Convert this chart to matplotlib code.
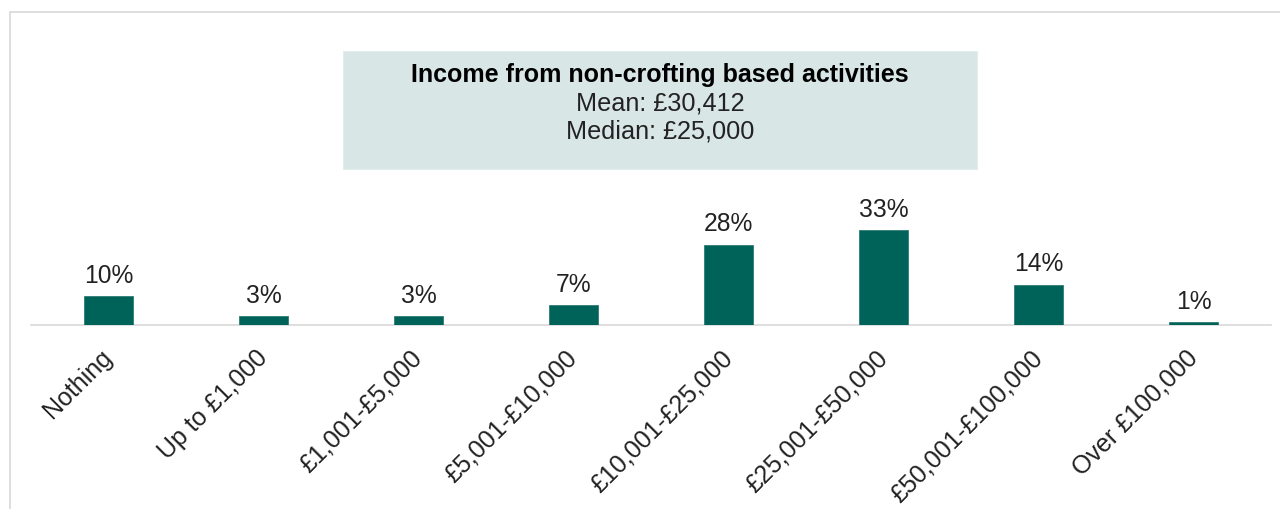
import matplotlib.pyplot as plt
from matplotlib.patches import Rectangle

plt.rcParams['font.family'] = ['Liberation Sans', 'DejaVu Sans']

bands = ['Nothing', 'Up to £1,000', '£1,001-£5,000', '£5,001-£10,000',
         '£10,001-£25,000', '£25,001-£50,000', '£50,001-£100,000',
         'Over £100,000']
share = [10, 3, 3, 7, 28, 33, 14, 1]

title = 'Income from non-crofting based activities'
mean_txt = 'Mean: £30,412'
median_txt = 'Median: £25,000'

teal = '#006359'
ink = '#222222'
W, H = 1280, 509

fig = plt.figure(figsize=(12.8, 5.09), dpi=100)

# light frame around the chart area
fig.patches.append(Rectangle((10 / W, -0.05), 1.1, 1 - 12 / H + 0.05,
                             transform=fig.transFigure, fill=False,
                             edgecolor='#d9d9d9', linewidth=1.2))

ax = fig.add_axes([31 / W, 1 - 325 / H, 1240 / W, 312 / H])
x = range(len(bands))
bars = ax.bar(x, share, width=0.32, color=teal, edgecolor='#2f7d75',
              linewidth=0.6, zorder=3)
for b, v in zip(bars, share):
    ax.annotate(f'{v}%', (b.get_x() + b.get_width() / 2, v),
                xytext=(0, 6), textcoords='offset points',
                ha='center', va='bottom', fontsize=17.7, color=ink)

ax.set_xlim(-0.5, len(bands) - 0.5)
ax.set_ylim(0, 108.7)
ax.set_xticks(list(x))
ax.set_xticklabels(bands, rotation=45, ha='right', va='center',
                   rotation_mode='anchor', fontsize=18, color=ink)
ax.tick_params(axis='x', length=0, pad=21)
ax.set_yticks([])
for s in ['top', 'right', 'left']:
    ax.spines[s].set_visible(False)
ax.spines['bottom'].set_color('#d9d9d9')
ax.spines['bottom'].set_linewidth(1.2)
ax.patch.set_alpha(0)

# summary box
fig.patches.append(Rectangle((343 / W, 1 - 169 / H), 634 / W, 118 / H,
                             transform=fig.transFigure, facecolor='#d8e6e5',
                             edgecolor='#e4eded', linewidth=0.8))
cx = (343 + 977) / 2 / W
fig.text(cx, 1 - 75 / H, title, ha='center', va='center',
         fontsize=18, fontweight='bold', color='black')
fig.text(cx, 1 - 103 / H, mean_txt, ha='center', va='center',
         fontsize=18.2, color=ink)
fig.text(cx, 1 - 131 / H, median_txt, ha='center', va='center',
         fontsize=18.2, color=ink)

fig.savefig('out.png', dpi=100, facecolor='white')
